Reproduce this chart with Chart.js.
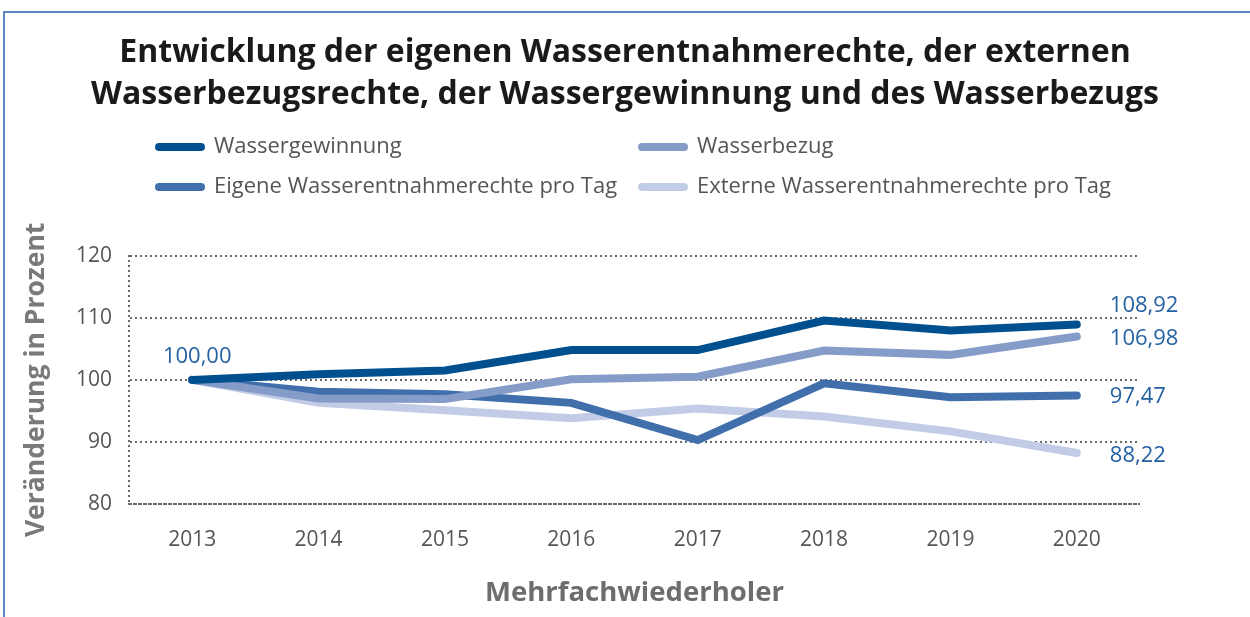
<!DOCTYPE html>
<html lang="de">
<head>
<meta charset="utf-8">
<script src="https://cdn.jsdelivr.net/npm/chart.js@4"></script>
<style>
  html, body { margin: 0; padding: 0; background: #fff; }
  #wrap { position: relative; width: 1250px; height: 617px; overflow: hidden; }
  #frame { position: absolute; left: 3px; top: 11px; right: -5px; bottom: -5px;
           border-left: 2px solid #5b87c0; border-top: 2px solid #5b87c0; }
  #chart { position: absolute; left: 0; top: 0; }
</style>
</head>
<body>
<div id="wrap">
  <div id="frame"></div>
  <canvas id="chart" width="1250" height="617"></canvas>
</div>
<script>
// Jahre
const years = ['2013', '2014', '2015', '2016', '2017', '2018', '2019', '2020'];

// Werte in Prozent (2013 = 100)
const wassergewinnung = [100, 100.9, 101.5, 104.8, 104.8, 109.57, 107.96, 108.92];
const wasserbezug     = [100, 97.0, 96.9, 100.1, 100.5, 104.73, 104.03, 106.98];
const eigeneRechte    = [100, 98.1, 97.7, 96.3, 90.3, 99.46, 97.2, 97.47];
const externeRechte   = [100, 96.3, 95.1, 93.8, 95.4, 94.1, 91.7, 88.22];

const yTicks = [80, 90, 100, 110, 120];

const FONT = "'Open Sans', 'DejaVu Sans', sans-serif";
const gridColor = '#6a6a6a';

function fmt(v) {
    return v.toFixed(2).replace('.', ',');
}

// Legende in zwei Spalten
const legendPlugin = {
    id: 'twoColLegend',
    afterDraw(chart) {
        const ctx = chart.ctx;
        const cols = [155, 638];
        const rows = [147, 187];
        ctx.save();
        ctx.font = '22px ' + FONT;
        ctx.textBaseline = 'middle';
        chart.data.datasets.forEach(function(ds, i) {
            const x = cols[i % 2];
            const y = rows[Math.floor(i / 2)];
            ctx.strokeStyle = ds.borderColor;
            ctx.lineWidth = 8;
            ctx.lineCap = 'round';
            ctx.beginPath();
            ctx.moveTo(x + 4, y);
            ctx.lineTo(x + 46, y);
            ctx.stroke();
            ctx.fillStyle = '#555';
            ctx.textAlign = 'left';
            ctx.fillText(ds.label, x + 59, y);
        });
        ctx.restore();
    }
};

// Werte am Anfang und am Ende
const valueLabels = {
    id: 'valueLabels',
    afterDatasetsDraw(chart) {
        const ctx = chart.ctx;
        const xs = chart.scales.x;
        const ys = chart.scales.y;
        const offsets = [-19, 2, 1, 3];
        ctx.save();
        ctx.font = '22px ' + FONT;
        ctx.fillStyle = '#2561a3';
        ctx.textBaseline = 'middle';

        const first = chart.data.datasets[0].data[0];
        ctx.textAlign = 'center';
        ctx.fillText(fmt(first), xs.getPixelForValue(0) + 5, ys.getPixelForValue(first) - 23);

        const last = years.length - 1;
        ctx.textAlign = 'left';
        chart.data.datasets.forEach(function(ds, i) {
            const v = ds.data[last];
            ctx.fillText(fmt(v), xs.getPixelForValue(last) + 33, ys.getPixelForValue(v) + offsets[i]);
        });
        ctx.restore();
    }
};

const ctx = document.getElementById('chart').getContext('2d');

const lineStyle = {
    borderWidth: 8,
    pointRadius: 0,
    pointHoverRadius: 0,
    tension: 0,
    fill: false,
    borderCapStyle: 'round',
    borderJoinStyle: 'miter'
};

new Chart(ctx, {
    type: 'line',
    data: {
        labels: years,
        datasets: [
            Object.assign({ label: 'Wassergewinnung', data: wassergewinnung, borderColor: '#00508f' }, lineStyle),
            Object.assign({ label: 'Wasserbezug', data: wasserbezug, borderColor: '#869cc8' }, lineStyle),
            Object.assign({ label: 'Eigene Wasserentnahmerechte pro Tag', data: eigeneRechte, borderColor: '#416fac' }, lineStyle),
            Object.assign({ label: 'Externe Wasserentnahmerechte pro Tag', data: externeRechte, borderColor: '#c3cce6' }, lineStyle)
        ]
    },
    options: {
        responsive: false,
        animation: false,
        layout: {
            padding: 0
        },
        plugins: {
            legend: { display: false },
            tooltip: { enabled: false },
            title: {
                display: true,
                text: ['Entwicklung der eigenen Wasserentnahmerechte, der externen',
                       'Wasserbezugsrechte, der Wassergewinnung und des Wasserbezugs'],
                color: '#1a1a1a',
                font: { family: FONT, size: 32, weight: 'bold', lineHeight: 1.34 },
                padding: { top: 31, bottom: 139 }
            }
        },
        scales: {
            x: {
                offset: true,
                grid: { display: false, drawTicks: false },
                border: { display: true, color: gridColor, width: 2, dash: [2, 3] },
                ticks: {
                    color: '#555',
                    padding: 23,
                    font: { family: FONT, size: 21 }
                },
                title: {
                    display: true,
                    text: 'Mehrfachwiederholer',
                    color: '#6d6d6d',
                    font: { family: FONT, size: 27.5, weight: 'bold' },
                    padding: { top: 0, bottom: 7 }
                },
                afterFit: function(scale) { scale.height = 113; }
            },
            y: {
                min: 80,
                max: 120,
                afterBuildTicks: function(scale) {
                    scale.ticks = yTicks.map(function(v) { return { value: v }; });
                },
                grid: {
                    color: gridColor,
                    lineWidth: 2,
                    drawTicks: false
                },
                border: { display: true, color: gridColor, width: 2, dash: [2, 3] },
                ticks: {
                    color: '#555',
                    padding: 17,
                    font: { family: FONT, size: 21 }
                },
                title: {
                    display: true,
                    text: 'Veränderung in Prozent',
                    color: '#7a7a7a',
                    font: { family: FONT, size: 26.5, weight: 'bold' },
                    padding: { top: 21, bottom: 0 }
                },
                afterFit: function(scale) { scale.width = 129; }
            },
            // leerer Platz rechts für die Endwerte
            yRight: {
                type: 'linear',
                position: 'right',
                grid: { display: false, drawTicks: false },
                border: { display: false },
                ticks: { display: false },
                afterFit: function(scale) { scale.width = 110; }
            }
        }
    },
    plugins: [legendPlugin, valueLabels, {
        id: 'dottedGrid',
        beforeDraw(chart) {
            chart.ctx.setLineDash([2, 3]);
        },
        beforeDatasetsDraw(chart) {
            chart.ctx.setLineDash([]);
        }
    }]
});
</script>
</body>
</html>
